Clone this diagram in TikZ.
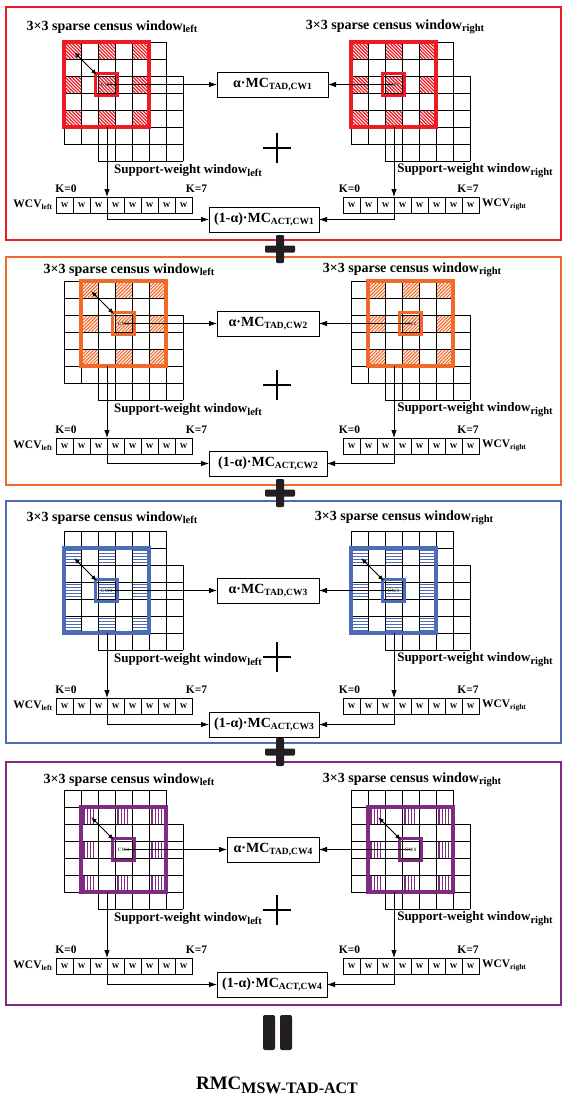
\documentclass[tikz,border=0pt]{standalone}
\usepackage{fontspec}
\setmainfont{Liberation Serif}
\usetikzlibrary{arrows.meta}
\definecolor{cred}{HTML}{ED1C24}
\definecolor{corange}{HTML}{F26A2A}
\definecolor{cblue}{HTML}{4C6DB5}
\definecolor{cpurple}{HTML}{7F2B82}
\definecolor{cdark}{HTML}{231F20}
\newif\ifleftside
\newcommand{\sbT}[1]{\raisebox{-2.5pt}{\fontsize{10.5}{10.5}\selectfont #1}}
\newcommand{\sbW}[1]{\raisebox{-2pt}{\fontsize{7.5}{7.5}\selectfont #1}}
\newcommand{\sbB}[1]{\raisebox{-2.5pt}{\fontsize{9.5}{9.5}\selectfont #1}}
\newcommand{\hatchA}{\foreach \hh in {-17,-13.6,...,17.1}{\draw[cred,line width=1.2pt] (\hh,0) -- ++(17,17);}}
\newcommand{\hatchB}{\foreach \hh in {0,3.4,...,34.1}{\draw[corange,line width=1.1pt] (\hh,0) -- ++(-17,17);}}
\newcommand{\hatchH}{\foreach \hh in {2.5,5.5,...,15}{\draw[cblue,line width=1.2pt] (0,\hh) -- (17,\hh);}}
\newcommand{\hatchV}{\foreach \hh in {3,6.3,...,15}{\draw[cpurple,line width=1.1pt] (\hh,0) -- (\hh,17);}}
\newcommand{\drawside}[1]{%
  \foreach \ci/\cj in \hcells {%
    \begin{scope}[shift={({\gx+(\coff+\ci)*17},{\gy+(\roff+\cj)*17})}]
      \clip (0,0) rectangle (17,17);
      \hatchpat
    \end{scope}
  }%
  \begin{scope}[shift={(\gx,\gy)}]
    \foreach \k in {0,...,6}{%
      \draw[gridl] ({\k*17},0) -- ({\k*17},102);
      \draw[gridl] (0,{\k*17}) -- (102,{\k*17});
    }%
    \foreach \k in {0,...,5}{%
      \draw[gridl] ({34+\k*17},34) -- ({34+\k*17},119);
      \draw[gridl] (34,{34+\k*17}) -- (119,{34+\k*17});
    }%
    \draw[\wc,win] ({\coff*17},{\roff*17}) rectangle ++(85,85);
    \draw[\wc,ctr] ({(\coff+2)*17-2.5},{(\roff+2)*17-2.5}) rectangle ++(22,22);
    \coordinate (#1c) at ({(\coff+2.5)*17},{(\roff+2.5)*17});
    \coordinate (#1b) at (43,{(\roff+5)*17});
    \coordinate (#1d) at ({\coff*17+10},{\roff*17+10});
    \coordinate (#1e) at ({(\coff+2)*17-1},{(\roff+2)*17-1});
    \ifnum\dbl=1 \draw[darr] (#1d) -- (#1e);\fi
  \end{scope}
  \foreach \k in {1,...,8}{%
    \node[wcell,anchor=north west] (#1w\k) at ({\gx-8+(\k-1)*17},\wcvtop) {W};
  }%
}
\newcommand{\sidetext}[1]{%
  \node[stitle] at ({\gx+124},{\gy+128.5}) {Support-weight window\sbT{#1}};
  \ifleftside
    \node[klab] at ({\gx+2},{\wcvtop-8.5}) {K=0};
    \node[klab] at ({\gx+132.5},{\wcvtop-8.5}) {K=7};
    \node[wlab,anchor=east] at ({\gx-12},{\wcvtop+8}) {WCV\sbW{left}};
  \else
    \node[klab] at ({\gx-1.5},{\wcvtop-8.5}) {K=0};
    \node[klab] at ({\gx+117},{\wcvtop-8.5}) {K=7};
    \node[wlab,anchor=west] at ({\gx+131},{\wcvtop+8}) {WCV\sbW{right}};
  \fi
}
\newcommand{\links}[2]{%
  \draw[arr] (#1Lc) -- (#1Lc -| #1a.west);
  \draw[arr] (#1Rc) -- (#1Rc -| #1a.east);
  \draw[arr] (#1Lb) -- (#1Lb |- #1Lw4.north);
  \draw[arr] (#1Lb |- #1Lw4.north) |- (#1b.west);
  \draw[arr] (#1Rb) -- (#1Rb |- #1Rw4.north);
  \draw[arr] (#1Rb |- #1Rw4.north) |- (#1b.east);
  \node[cwl] at (#1Lc) {#2};
  \node[cwl] at (#1Rc) {#2};
}
\newcommand{\thinplus}[2]{\draw[tplus] ({#1-14},#2) -- ({#1+14},#2) (#1,{#2-15}) -- (#1,{#2+15});}
\newcommand{\bigplus}[2]{%
  \fill[cdark,rounded corners=1.2pt] ({#1-15},{#2-3.5}) rectangle ({#1+15},{#2+3.5});
  \fill[cdark,rounded corners=1.2pt] ({#1-4},{#2-14}) rectangle ({#1+4},{#2+14});}
\begin{document}
\begin{tikzpicture}[x=1pt,y=-1pt,
  every node/.style={inner sep=0pt, outer sep=0pt},
  gridl/.style={line width=0.8pt, black},
  win/.style={line width=3.5pt},
  ctr/.style={line width=3pt},
  arr/.style={line width=0.8pt, -{Latex[length=8pt,width=5.5pt]}},
  darr/.style={line width=0.9pt, {Latex[length=6pt,width=4.5pt]}-{Latex[length=6pt,width=4.5pt]}},
  wcell/.style={draw, line width=0.7pt, minimum width=17pt, minimum height=16pt, font=\bfseries\fontsize{7.5}{7.5}\selectfont},
  abox/.style={draw, line width=0.8pt, minimum height=25pt, font=\bfseries\fontsize{14}{14}\selectfont},
  title/.style={font=\bfseries\fontsize{14}{14}\selectfont},
  stitle/.style={font=\bfseries\fontsize{13}{14}\selectfont},
  klab/.style={font=\bfseries\fontsize{11.5}{12}\selectfont},
  wlab/.style={font=\bfseries\fontsize{11.5}{12}\selectfont},
  cwl/.style={font=\bfseries\fontsize{5}{5}\selectfont, text=black!75},
  frm/.style={line width=2pt},
  tplus/.style={line width=2.2pt, black}
]
\useasboundingbox (0,0) rectangle (563,1100);
\fill[white] (0,0) rectangle (563,1100);

% ---------- Panel 1 ----------
\draw[frm,cred] (6,7) rectangle (561,240);
\node[abox,minimum width=111pt] (p1a) at (272.5,84.5) {α·MC\sbB{TAD,CW1}};
\node[abox,minimum width=110pt] (p1b) at (264,219.5) {(1-α)·MC\sbB{ACT,CW1}};
\def\gy{42}\def\coff{0}\def\roff{0}\def\wcvtop{197}\def\wc{cred}\let\hatchpat\hatchA
\def\hcells{0/0,2/0,4/0,0/2,2/2,4/2,0/4,2/4,4/4}
\def\gx{64}\def\dbl{1}\leftsidetrue\drawside{p1L}\sidetext{left}
\def\gx{351}\def\dbl{0}\leftsidefalse\drawside{p1R}\sidetext{right}
\links{p1}{CW1}
\node[title] at (112,27) {3×3 sparse census window\sbT{left}};
\node[title] at (395,27) {3×3 sparse census window\sbT{right}};
\thinplus{277}{148}

% ---------- Panel 2 ----------
\draw[frm,corange] (6,257) rectangle (561,485);
\node[abox,minimum width=102pt] (p2a) at (268,323.5) {α·MC\sbB{TAD,CW2}};
\node[abox,minimum width=118pt] (p2b) at (268,463.5) {(1-α)·MC\sbB{ACT,CW2}};
\def\gy{281}\def\coff{1}\def\roff{0}\def\wcvtop{438}\def\wc{corange}\let\hatchpat\hatchB
\def\hcells{0/0,2/0,4/0,0/2,2/2,4/2,0/4,2/4,4/4}
\def\gx{64}\def\dbl{1}\leftsidetrue\drawside{p2L}\sidetext{left}
\def\gx{351}\def\dbl{0}\leftsidefalse\drawside{p2R}\sidetext{right}
\links{p2}{CW2}
\node[title] at (129,270) {3×3 sparse census window\sbT{left}};
\node[title] at (412,270) {3×3 sparse census window\sbT{right}};
\thinplus{277}{385}

% ---------- Panel 3 ----------
\draw[frm,cblue] (6,501) rectangle (561,743);
\node[abox,minimum width=102pt] (p3a) at (268,590.5) {α·MC\sbB{TAD,CW3}};
\node[abox,minimum width=110pt] (p3b) at (264,724.5) {(1-α)·MC\sbB{ACT,CW3}};
\def\gy{531}\def\coff{0}\def\roff{1}\def\wcvtop{698}\def\wc{cblue}\let\hatchpat\hatchH
\def\hcells{0/0,2/0,4/0,0/2,2/2,4/2,0/4,2/4,4/4}
\def\gx{64}\def\dbl{1}\leftsidetrue\drawside{p3L}\sidetext{left}
\def\gx{351}\def\dbl{1}\leftsidefalse\drawside{p3R}\sidetext{right}
\links{p3}{CW3}
\node[title] at (112,518) {3×3 sparse census window\sbT{left}};
\node[title] at (404,518) {3×3 sparse census window\sbT{right}};
\thinplus{277}{657}

% ---------- Panel 4 ----------
\draw[frm,cpurple] (6,762) rectangle (561,1005);
\node[abox,minimum width=92pt] (p4a) at (273,849.5) {α·MC\sbB{TAD,CW4}};
\node[abox,minimum width=110pt] (p4b) at (272,984.5) {(1-α)·MC\sbB{ACT,CW4}};
\def\gy{790}\def\coff{1}\def\roff{1}\def\wcvtop{958}\def\wc{cpurple}\let\hatchpat\hatchV
\def\hcells{0/0,2/0,4/0,0/2,4/2,0/4,2/4,4/4}
\def\gx{64}\def\dbl{1}\leftsidetrue\drawside{p4L}\sidetext{left}
\def\gx{351}\def\dbl{1}\leftsidefalse\drawside{p4R}\sidetext{right}
\links{p4}{CW4}
\node[title] at (129,780) {3×3 sparse census window\sbT{left}};
\node[title] at (412,780) {3×3 sparse census window\sbT{right}};
\thinplus{277}{910}

% ---------- combining signs ----------
\bigplus{280}{249}
\bigplus{280}{493}
\bigplus{280}{752}
\fill[cdark,rounded corners=2pt] (263,1015) rectangle (275,1050);
\fill[cdark,rounded corners=2pt] (280,1015) rectangle (292,1050);
\node[font=\bfseries\fontsize{19}{19}\selectfont] (rmc) at (277,1085) {RMC\raisebox{-4pt}{\fontsize{16}{16}\selectfont MSW-TAD-ACT}};
\end{tikzpicture}
\end{document}
